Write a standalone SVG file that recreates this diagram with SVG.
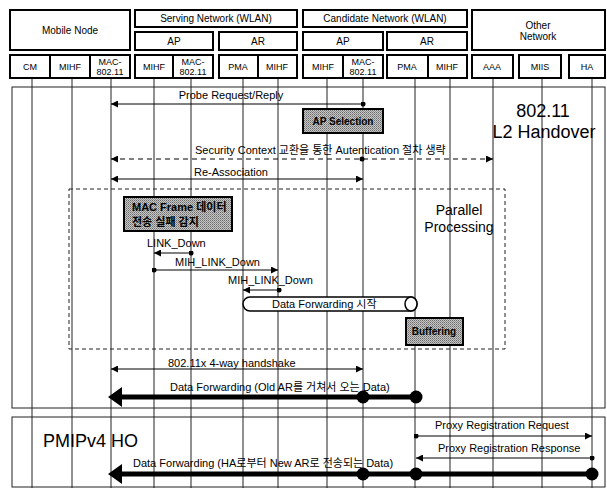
<svg xmlns="http://www.w3.org/2000/svg" width="607" height="488" viewBox="0 0 607 488">
<style>
text{font-family:"Liberation Sans",Arial,"Noto Sans CJK KR",sans-serif;fill:#000}
.hb{fill:#fff;stroke:#000;stroke-width:2}
.ht{font-size:10px;text-anchor:middle}
.hs{font-size:9px;text-anchor:middle}
.ll{stroke:#222;stroke-width:1;fill:none}
.fr{fill:none;stroke:#222;stroke-width:1}
.msg{stroke:#000;stroke-width:1;fill:none}
.m{font-size:11px}
.big{font-size:18px;text-anchor:middle}
.gb{fill:url(#ht);stroke:#000;stroke-width:2}
.gt{font-size:10px;font-weight:bold}
.thick{stroke:#000;stroke-width:5;fill:none}
</style>
<defs>
<pattern id="ht" width="2" height="2" patternUnits="userSpaceOnUse">
<rect width="2" height="2" fill="#c8c8c8"/><rect width="1" height="1" fill="#6a6a6a"/><rect x="1" y="1" width="1" height="1" fill="#8e8e8e"/>
</pattern>
<marker id="ah" viewBox="0 0 10 10" refX="10" refY="5" markerWidth="8" markerHeight="7" markerUnits="userSpaceOnUse" orient="auto-start-reverse"><path d="M0,0 L10,5 L0,10 z" fill="#000"/></marker>
<marker id="dt" viewBox="0 0 10 10" refX="5" refY="5" markerWidth="5" markerHeight="5" markerUnits="userSpaceOnUse"><circle cx="5" cy="5" r="5" fill="#000"/></marker>
</defs>
<rect width="607" height="488" fill="#fff"/>

<!-- frames -->
<g id="frames">
<rect class="fr" x="12" y="87" width="593" height="321"/>
<rect class="fr" x="12" y="417" width="593" height="70"/>
<rect class="fr" x="69" y="189" width="436" height="160" stroke-dasharray="4 3"/>
</g>

<!-- lifelines -->
<g id="lifelines">
<line class="ll" x1="32" y1="78" x2="32" y2="488"/>
<line class="ll" x1="72" y1="78" x2="72" y2="488"/>
<line class="ll" x1="111" y1="78" x2="111" y2="488"/>
<line class="ll" x1="154" y1="78" x2="154" y2="488"/>
<line class="ll" x1="191" y1="78" x2="191" y2="488"/>
<line class="ll" x1="243" y1="78" x2="243" y2="488"/>
<line class="ll" x1="278" y1="78" x2="278" y2="488"/>
<line class="ll" x1="327" y1="78" x2="327" y2="488"/>
<line class="ll" x1="363" y1="78" x2="363" y2="488"/>
<line class="ll" x1="415" y1="78" x2="415" y2="488"/>
<line class="ll" x1="450" y1="78" x2="450" y2="488"/>
<line class="ll" x1="493" y1="78" x2="493" y2="488"/>
<line class="ll" x1="542" y1="78" x2="542" y2="488"/>
<line class="ll" x1="592" y1="78" x2="592" y2="488"/>
</g>

<!-- header nodes -->
<g id="mobile-node"><rect class="hb" x="10" y="10" width="120" height="40"/><text class="ht" x="70" y="34">Mobile Node</text></g>
<g id="serving-network"><rect class="hb" x="135" y="10" width="162" height="17"/><text class="ht" x="216" y="22">Serving Network (WLAN)</text></g>
<g id="serving-ap"><rect class="hb" x="135" y="32" width="78" height="18"/><text class="ht" x="174" y="45">AP</text></g>
<g id="serving-ar"><rect class="hb" x="219" y="32" width="78" height="18"/><text class="ht" x="258" y="45">AR</text></g>
<g id="candidate-network"><rect class="hb" x="303" y="10" width="164" height="17"/><text class="ht" x="385" y="22">Candidate Network (WLAN)</text></g>
<g id="candidate-ap"><rect class="hb" x="303" y="32" width="80" height="18"/><text class="ht" x="343" y="45">AP</text></g>
<g id="candidate-ar"><rect class="hb" x="387" y="32" width="80" height="18"/><text class="ht" x="427" y="45">AR</text></g>
<g id="other-network"><rect class="hb" x="472" y="10" width="133" height="40"/><text class="ht" x="538" y="29">Other</text><text class="ht" x="538" y="40">Network</text></g>

<g id="mn-cm"><rect class="hb" x="10" y="55" width="40" height="23"/><text class="hs" x="30" y="70">CM</text></g>
<g id="mn-mihf"><rect class="hb" x="50" y="55" width="40" height="23"/><text class="hs" x="70" y="70">MIHF</text></g>
<g id="mn-mac"><rect class="hb" x="90" y="55" width="40" height="23"/><text class="hs" x="110" y="65">MAC-</text><text class="hs" x="110" y="75">802.11</text></g>
<g id="sap-mihf"><rect class="hb" x="135" y="55" width="38" height="23"/><text class="hs" x="154" y="70">MIHF</text></g>
<g id="sap-mac"><rect class="hb" x="173" y="55" width="40" height="23"/><text class="hs" x="193" y="65">MAC-</text><text class="hs" x="193" y="75">802.11</text></g>
<g id="sar-pma"><rect class="hb" x="219" y="55" width="39" height="23"/><text class="hs" x="238" y="70">PMA</text></g>
<g id="sar-mihf"><rect class="hb" x="258" y="55" width="39" height="23"/><text class="hs" x="277" y="70">MIHF</text></g>
<g id="cap-mihf"><rect class="hb" x="303" y="55" width="40" height="23"/><text class="hs" x="323" y="70">MIHF</text></g>
<g id="cap-mac"><rect class="hb" x="343" y="55" width="40" height="23"/><text class="hs" x="363" y="65">MAC-</text><text class="hs" x="363" y="75">802.11</text></g>
<g id="car-pma"><rect class="hb" x="387" y="55" width="41" height="23"/><text class="hs" x="407" y="70">PMA</text></g>
<g id="car-mihf"><rect class="hb" x="428" y="55" width="39" height="23"/><text class="hs" x="447" y="70">MIHF</text></g>
<g id="aaa"><rect class="hb" x="472" y="55" width="41" height="23"/><text class="hs" x="492" y="70">AAA</text></g>
<g id="miis"><rect class="hb" x="519" y="55" width="42" height="23"/><text class="hs" x="540" y="70">MIIS</text></g>
<g id="ha"><rect class="hb" x="569" y="55" width="36" height="23"/><text class="hs" x="587" y="70">HA</text></g>

<!-- process boxes -->
<g id="ap-selection"><rect class="gb" x="303" y="109" width="80" height="24"/><text class="gt" x="343" y="125" text-anchor="middle">AP Selection</text></g>
<g id="mac-frame-fail"><rect class="gb" x="124" y="197" width="108" height="34"/><text class="gt" x="132" y="211" style="font-size:11px">MAC Frame 데이터</text><text class="gt" x="132" y="226" style="font-size:11px">전송 실패 감지</text></g>
<g id="buffering"><rect class="gb" x="406" y="318" width="57" height="27"/><text class="gt" x="434" y="335" text-anchor="middle">Buffering</text></g>
<g id="data-forwarding-start">
<path d="M250,297 H411 A6,7 0 0 1 411,311 H250 A7,7 0 0 1 250,297 Z" fill="#fff" stroke="#000" stroke-width="1.5"/>
<ellipse cx="411" cy="304" rx="6" ry="7" fill="#fff" stroke="#000" stroke-width="1.5"/>
<text class="m" x="272" y="308">Data Forwarding 시작</text>
</g>

<!-- phase labels -->
<g id="labels">
<text class="big" x="543" y="117">802.11</text>
<text class="big" x="544" y="138">L2 Handover</text>
<text x="459" y="215" style="font-size:14px;text-anchor:middle">Parallel</text>
<text x="459" y="232" style="font-size:14px;text-anchor:middle">Processing</text>
<text x="43" y="447" style="font-size:18px">PMIPv4 HO</text>
</g>

<!-- connectors -->
<g id="connectors">
<line class="msg" x1="363" y1="104" x2="111" y2="104" marker-start="url(#dt)" marker-end="url(#ah)"/>
<text class="m" x="231" y="99" text-anchor="middle">Probe Request/Reply</text>

<line class="msg" x1="111" y1="159" x2="493" y2="159" stroke-dasharray="5 4" marker-start="url(#ah)" marker-end="url(#ah)"/>
<circle cx="362" cy="159" r="2.5" fill="#000"/>
<text class="m" x="195" y="154">Security Context 교환을 통한 Autentication 절차 생략</text>

<line class="msg" x1="111" y1="179" x2="363" y2="179" marker-start="url(#ah)" marker-end="url(#ah)"/>
<text class="m" x="194" y="176">Re-Association</text>

<line class="msg" x1="191" y1="253" x2="154" y2="253" marker-start="url(#dt)" marker-end="url(#ah)"/>
<text class="m" x="147" y="247">LINK_Down</text>

<line class="msg" x1="154" y1="270" x2="278" y2="270" marker-start="url(#dt)" marker-end="url(#ah)"/>
<text class="m" x="175" y="266">MIH_LINK_Down</text>

<line class="msg" x1="279" y1="290" x2="243" y2="290" marker-start="url(#dt)" marker-end="url(#ah)"/>
<text class="m" x="228" y="284">MIH_LINK_Down</text>

<line class="msg" x1="111" y1="369" x2="363" y2="369" marker-start="url(#ah)" marker-end="url(#ah)"/>
<text class="m" x="168" y="367">802.11x 4-way handshake</text>

<line class="thick" x1="120" y1="397" x2="415" y2="397"/>
<polygon points="108,397 122,387 122,407" fill="#000"/>
<circle cx="363" cy="397" r="6.5" fill="#000"/>
<circle cx="416" cy="397" r="6.5" fill="#000"/>
<text class="m" x="170" y="391">Data Forwarding (Old AR를 거쳐서 오는 Data)</text>

<line class="msg" x1="416" y1="436" x2="592" y2="436" marker-start="url(#dt)" marker-end="url(#ah)"/>
<text class="m" x="435" y="429">Proxy Registration Request</text>

<line class="msg" x1="592" y1="458" x2="416" y2="458" marker-start="url(#dt)" marker-end="url(#ah)"/>
<text class="m" x="438" y="452">Proxy Registration Response</text>

<line class="thick" x1="120" y1="474" x2="592" y2="474"/>
<polygon points="108,474 122,464 122,484" fill="#000"/>
<circle cx="363" cy="474" r="6.5" fill="#000"/>
<circle cx="416" cy="474" r="6.5" fill="#000"/>
<circle cx="592" cy="474" r="6.5" fill="#000"/>
<text class="m" x="133" y="467">Data Forwarding (HA로부터 New AR로 전송되는 Data)</text>
</g>
</svg>
